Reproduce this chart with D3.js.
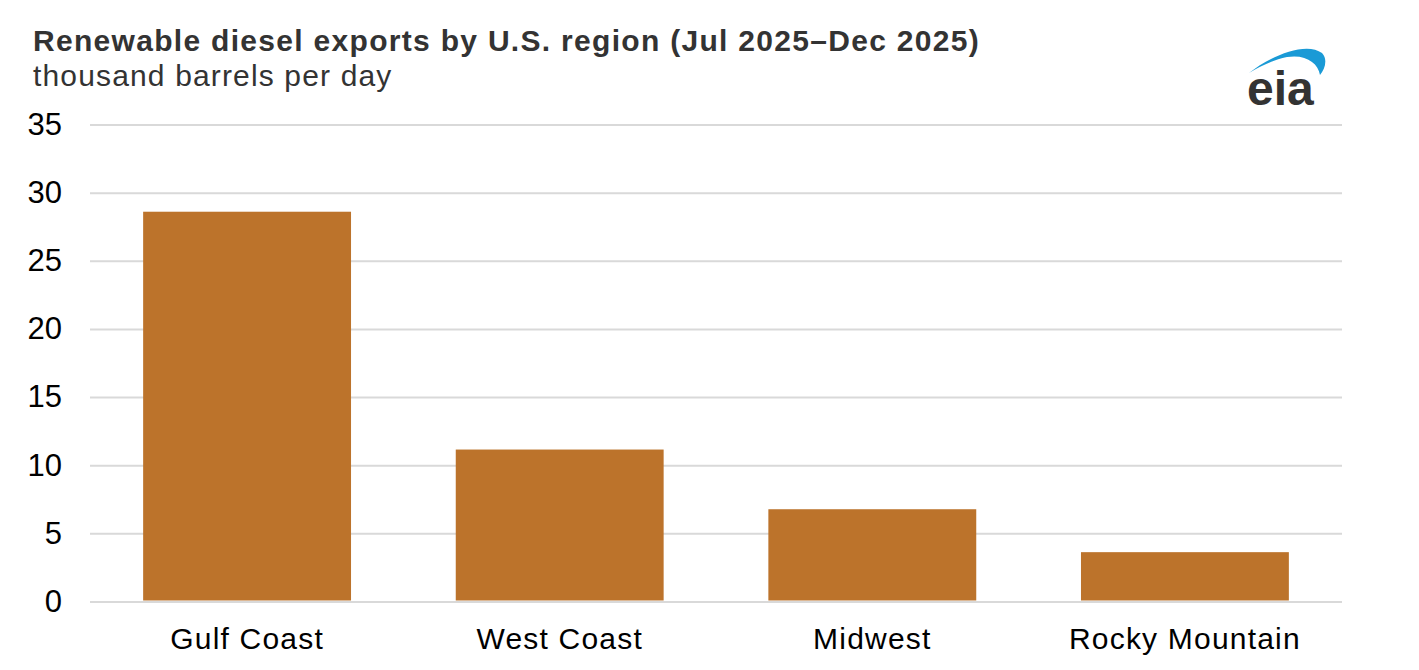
<!DOCTYPE html>
<html>
<head>
<meta charset="utf-8">
<script src="https://cdn.jsdelivr.net/npm/d3@7"></script>
<style>
  body { margin: 0; background: #fff; }
  svg text { font-family: "Liberation Sans", Arial, sans-serif; }
</style>
</head>
<body>
<div id="chart"></div>
<script>
// chart data
const regions = ["Gulf Coast", "West Coast", "Midwest", "Rocky Mountain"];
const exportsKbd = [28.6, 11.15, 6.77, 3.62];
const yTicks = [0, 5, 10, 15, 20, 25, 30, 35];

const W = 1419, H = 670;
const plotLeft = 90, plotRight = 1342, plotTop = 124.5, plotBottom = 601.5;

const svg = d3.select("#chart")
    .append("svg")
    .attr("width", W)
    .attr("height", H);

// titles
svg.append("text")
    .attr("x", 33).attr("y", 51)
    .attr("fill", "#333")
    .style("font-size", "30px")
    .style("font-weight", "bold")
    .style("letter-spacing", "1.3px")
    .text("Renewable diesel exports by U.S. region (Jul 2025\u2013Dec 2025)");

svg.append("text")
    .attr("x", 33).attr("y", 86)
    .attr("fill", "#333")
    .style("font-size", "30px")
    .style("letter-spacing", "1.15px")
    .text("thousand barrels per day");

// scales
const y = d3.scaleLinear().domain([0, 35]).range([plotBottom, plotTop]);
const x = d3.scaleBand()
    .domain(regions)
    .range([plotLeft, plotRight])
    .paddingInner(0.335)
    .paddingOuter(0.17);

// y axis + gridlines
const yAxis = svg.append("g")
    .attr("transform", `translate(${plotLeft},0)`)
    .call(d3.axisLeft(y).tickValues(yTicks).tickSize(-(plotRight - plotLeft)).tickPadding(28));
yAxis.select(".domain").remove();
yAxis.selectAll(".tick line").attr("stroke", "#d9d9d9").attr("stroke-width", 2);
yAxis.selectAll(".tick text")
    .attr("fill", "#000")
    .style("font-size", "31px");

// bars
svg.selectAll(".bar")
    .data(exportsKbd)
    .enter()
    .append("rect")
    .attr("class", "bar")
    .attr("x", (d, i) => x(regions[i]))
    .attr("width", x.bandwidth())
    .attr("y", d => y(d))
    .attr("height", d => y(0) - y(d) - 1)
    .attr("fill", "#bc732b");

// x axis
const xAxis = svg.append("g")
    .attr("transform", `translate(0,${plotBottom})`)
    .call(d3.axisBottom(x).tickSize(0).tickPadding(26));
xAxis.select(".domain").remove();
xAxis.selectAll(".tick text")
    .attr("fill", "#000")
    .style("font-size", "30px")
    .style("letter-spacing", "1.2px");

// eia logo
const logo = svg.append("g");
logo.append("path")
    .attr("d", "M1249,73 C1270,56 1306,41 1322,53 C1328,59 1325,69 1320,75 C1318,63 1306,54 1287,57 C1272,60 1259,67 1249,73 Z")
    .attr("fill", "#1a9ad6");
logo.append("text")
    .attr("x", 1247).attr("y", 105)
    .attr("fill", "#333")
    .style("font-size", "48px")
    .style("font-weight", "bold")
    .text("eia");
</script>
</body>
</html>
